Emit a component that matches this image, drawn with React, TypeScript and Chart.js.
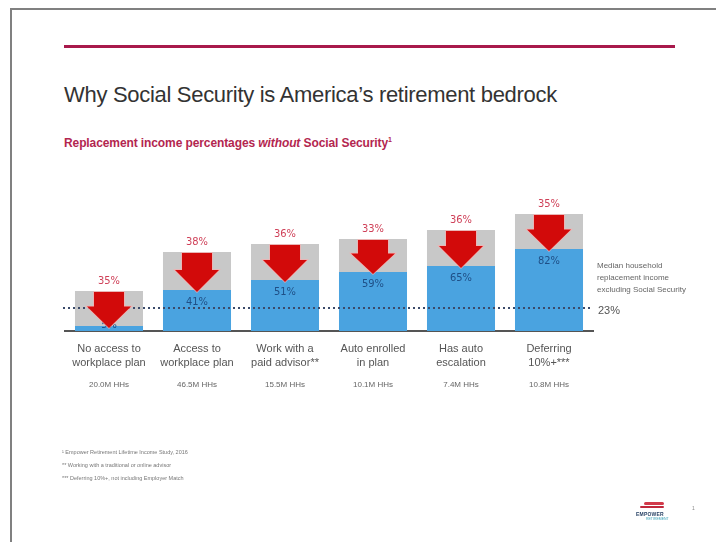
import React, { useEffect, useRef } from "react";
import { Chart, registerables } from "chart.js";

Chart.register(...registerables);

const categories: string[][] = [
  ["No access to", "workplace plan"],
  ["Access to", "workplace plan"],
  ["Work with a", "paid advisor**"],
  ["Auto enrolled", "in plan"],
  ["Has auto", "escalation"],
  ["Deferring", "10%+***"],
];
const households = ["20.0M HHs", "46.5M HHs", "15.5M HHs", "10.1M HHs", "7.4M HHs", "10.8M HHs"];
const withoutSS = [5, 41, 51, 59, 65, 82];
const ssShare = [35, 38, 36, 33, 36, 35];
const medianValue = 23;
const medianNote = ["Median household", "replacement income", "excluding Social Security"];
const footnotes = [
  "¹  Empower Retirement Lifetime Income Study, 2016",
  "**  Working with a traditional or online advisor",
  "***  Deferring 10%+, not including Employer Match",
];
const yMax = 130;

const FONT = "'Liberation Sans', Arial, sans-serif";
const NARROW = "'Liberation Sans Narrow', 'DejaVu Sans Condensed', 'Liberation Sans', Arial, sans-serif";

const overlay = {
  id: "overlay",
  afterDatasetsDraw(chart: any) {
    const { ctx, chartArea, scales } = chart;
    const x = scales.x;
    const y = scales.y;
    ctx.save();
    // median dotted line
    const yl = y.getPixelForValue(medianValue);
    ctx.strokeStyle = "#3a4a6a";
    ctx.lineWidth = 2;
    ctx.setLineDash([2, 3]);
    ctx.beginPath();
    ctx.moveTo(chartArea.left - 2, yl);
    ctx.lineTo(chartArea.right - 3, yl);
    ctx.stroke();
    ctx.setLineDash([]);

    // blue value labels
    ctx.textAlign = "center";
    ctx.textBaseline = "middle";
    ctx.font = `11px ${NARROW}`;
    withoutSS.forEach((v, i) => {
      const cx = x.getPixelForValue(i);
      ctx.fillStyle = "#1f4f86";
      const ly = Math.min(y.getPixelForValue(v) + 12, chartArea.bottom - 6);
      ctx.fillText(`${v}%`, cx, ly);
    });

    // arrows
    withoutSS.forEach((v, i) => {
      const cx = x.getPixelForValue(i);
      const top = y.getPixelForValue(v + ssShare[i]) + 1;
      const tip = y.getPixelForValue(v) + 2;
      const len = tip - top;
      const headLen = Math.min(22, len * 0.6);
      const neck = tip - headLen;
      ctx.beginPath();
      ctx.moveTo(cx - 15, top);
      ctx.lineTo(cx + 15, top);
      ctx.lineTo(cx + 15, neck);
      ctx.lineTo(cx + 22, neck);
      ctx.lineTo(cx, tip);
      ctx.lineTo(cx - 22, neck);
      ctx.lineTo(cx - 15, neck);
      ctx.closePath();
      ctx.strokeStyle = "rgba(255,170,170,0.8)";
      ctx.lineWidth = 1.5;
      ctx.stroke();
      ctx.fillStyle = "#d20a0a";
      ctx.fill();
    });

    // gray value labels above bars
    ctx.font = `11px ${NARROW}`;
    withoutSS.forEach((v, i) => {
      const cx = x.getPixelForValue(i);
      ctx.fillStyle = "#cf4058";
      ctx.fillText(`${ssShare[i]}%`, cx, y.getPixelForValue(v + ssShare[i]) - 10);
    });

    // households
    ctx.font = `8px ${FONT}`;
    ctx.fillStyle = "#666";
    households.forEach((h, i) => {
      ctx.fillText(h, x.getPixelForValue(i), chartArea.bottom + 54);
    });

    // median note
    ctx.textAlign = "left";
    ctx.font = `8px ${FONT}`;
    ctx.fillStyle = "#666";
    medianNote.forEach((t, k) => {
      ctx.fillText(t, chartArea.right + 4, yl - 42 + k * 12);
    });
    ctx.font = `11px ${FONT}`;
    ctx.fillStyle = "#555";
    ctx.fillText(`${medianValue}%`, chartArea.right + 5, yl + 3);
    ctx.restore();
  },
};

export default function App() {
  const ref = useRef<HTMLCanvasElement | null>(null);
  useEffect(() => {
    if (!ref.current) return;
    const chart = new Chart(ref.current, {
      type: "bar",
      data: {
        labels: categories,
        datasets: [
          {
            label: "Without Social Security",
            data: withoutSS,
            backgroundColor: "#4aa3e0",
            barPercentage: 0.773,
            categoryPercentage: 1,
          },
          {
            label: "Social Security",
            data: ssShare,
            backgroundColor: "#c8c8c8",
            barPercentage: 0.773,
            categoryPercentage: 1,
          },
        ],
      },
      options: {
        responsive: false,
        animation: false,
        devicePixelRatio: 1,
        layout: { padding: { left: 65, right: 123, top: 201, bottom: 161 } },
        plugins: { legend: { display: false }, tooltip: { enabled: false } },
        scales: {
          x: {
            stacked: true,
            grid: { display: false, drawTicks: false },
            border: { display: true, color: "#555", width: 2 },
            ticks: {
              color: "#555",
              padding: 11,
              maxRotation: 0,
              autoSkip: false,
              font: { family: FONT, size: 11, lineHeight: 1.27 },
            },
          },
          y: {
            stacked: true,
            display: false,
            min: 0,
            max: yMax,
          },
        },
      },
      plugins: [overlay],
    });
    return () => chart.destroy();
  }, []);

  return (
    <div
      style={{
        position: "absolute",
        left: 0,
        top: 0,
        width: 716,
        height: 542,
        overflow: "hidden",
        background: "#fff",
        fontFamily: FONT,
      }}
    >
      <div
        style={{
          position: "absolute",
          left: 10,
          top: 8,
          width: 760,
          height: 600,
          border: "2px solid #808080",
        }}
      />
      <div
        style={{
          position: "absolute",
          left: 64,
          top: 45,
          width: 611,
          height: 3,
          background: "#a8194b",
        }}
      />
      <div
        style={{
          position: "absolute",
          left: 64,
          top: 82,
          fontSize: 22,
          color: "#333",
          whiteSpace: "nowrap",
          letterSpacing: -0.3,
        }}
      >
        Why Social Security is America’s retirement bedrock
      </div>
      <div
        style={{
          position: "absolute",
          left: 64,
          top: 136,
          fontSize: 12,
          fontWeight: "bold",
          color: "#b3264f",
          whiteSpace: "nowrap",
          letterSpacing: -0.1,
        }}
      >
        Replacement income percentages <i>without</i> Social Security<sup style={{ fontSize: 7 }}>1</sup>
      </div>
      <canvas
        ref={ref}
        width={716}
        height={542}
        style={{ position: "absolute", left: 0, top: 0, width: 716, height: 542 }}
      />
      {footnotes.map((f, i) => (
        <div
          key={i}
          style={{
            position: "absolute",
            left: 62,
            top: 449 + i * 13,
            fontSize: 5.5,
            color: "#777",
            whiteSpace: "nowrap",
          }}
        >
          {f}
        </div>
      ))}
      <div style={{ position: "absolute", left: 636, top: 500, width: 32, height: 24 }}>
        <div style={{ position: "absolute", left: 8, top: 2, width: 20, height: 3, borderRadius: 2, background: "#d23a4a" }} />
        <div style={{ position: "absolute", left: 4, top: 6, width: 24, height: 2, borderRadius: 2, background: "#c0283c" }} />
        <div style={{ position: "absolute", left: 0, top: 11, fontSize: 5, fontWeight: "bold", color: "#1f3a5f", letterSpacing: 0.2 }}>
          EMPOWER
        </div>
        <div style={{ position: "absolute", left: 10, top: 17, fontSize: 3.5, color: "#3aa0b8" }}>RETIREMENT</div>
      </div>
      <div style={{ position: "absolute", left: 692, top: 505, fontSize: 5, color: "#888" }}>1</div>
    </div>
  );
}
